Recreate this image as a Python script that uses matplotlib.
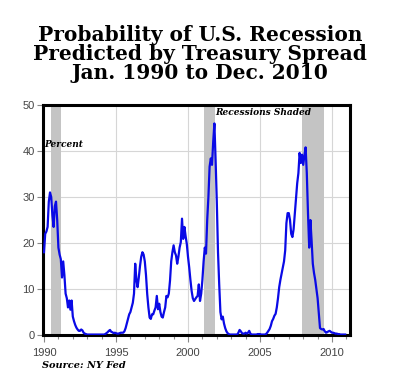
import numpy as np
import matplotlib
matplotlib.use("Agg")
from matplotlib import pyplot as plt

# monthly probability (%), Jan 1990 .. Dec 2010
years = list(range(1990, 2011))
prob = [
    [18, 22, 22.5, 23.5, 29, 31, 30, 26, 23.5, 28, 29, 25],          # 1990
    [19, 17.5, 16.5, 12.5, 16, 13, 9, 8, 6, 7.5, 5.5, 7.5],          # 1991
    [4, 3, 2.2, 1.6, 1.2, 0.9, 0.9, 1.2, 1.0, 0.5, 0.3, 0.2],        # 1992
    [0.1, 0.1, 0.1, 0.1, 0.1, 0.1, 0.1, 0.1, 0.1, 0.1, 0.1, 0.1],    # 1993
    [0.1, 0.1, 0.1, 0.2, 0.4, 0.6, 0.9, 1.1, 0.7, 0.6, 0.4, 0.5],    # 1994
    [0.4, 0.3, 0.3, 0.4, 0.5, 0.5, 0.5, 0.8, 1.5, 2.5, 3.5, 4.5],    # 1995
    [5, 6, 7, 9, 15.5, 12, 10.4, 12.5, 15, 17, 18, 17.5],            # 1996
    [16, 13, 8.9, 6, 3.8, 3.5, 4.5, 4.5, 5.3, 6, 8.5, 5.6],          # 1997
    [6.8, 5, 4, 3.8, 5, 6, 8.5, 8.2, 9, 11.8, 16, 18],               # 1998
    [19.5, 18, 17.3, 15.5, 17, 19, 20.2, 25.3, 20.9, 23.5, 21.5, 19.8],  # 1999
    [17, 14.7, 12, 9.6, 8, 7.4, 7.8, 8.2, 8.5, 11, 7.4, 9],          # 2000
    [12, 16, 19, 17.7, 25, 30, 36.6, 38.4, 37, 42, 46, 38],          # 2001
    [29, 18, 11, 5, 3.4, 4, 2.5, 1.5, 0.8, 0.4, 0.2, 0.1],           # 2002
    [0.1, 0.1, 0.1, 0.1, 0.1, 0.1, 0.5, 1.1, 0.8, 0.4, 0.3, 0.3],    # 2003
    [0.5, 0.3, 0.5, 0.9, 0.3, 0.1, 0.1, 0.1, 0.1, 0.1, 0.2, 0.2],    # 2004
    [0.2, 0.1, 0.1, 0.1, 0.1, 0.2, 0.5, 0.9, 1.3, 2.0, 3.0, 3.5],    # 2005
    [4.2, 4.6, 6, 8, 10.4, 12, 13.3, 14.5, 16, 18.4, 24.3, 26.5],    # 2006
    [26.5, 25, 22, 21.3, 23, 26.4, 30, 33, 35.2, 39.6, 37.4, 39.2],  # 2007
    [37, 39, 40.8, 35.2, 26.4, 19, 25, 20.5, 15.5, 13.5, 12, 10],    # 2008
    [8, 4.6, 1.5, 1.3, 1.2, 1.3, 0.8, 0.5, 0.6, 0.8, 0.9, 0.7],      # 2009
    [0.5, 0.5, 0.4, 0.3, 0.3, 0.2, 0.2, 0.1, 0.1, 0.1, 0.1, 0.1],    # 2010
]
recessions = [(1990.5, 1991.17), (2001.12, 2001.87), (2007.9, 2009.42)]

values = np.concatenate(prob)
dates = np.arange(len(values)) / 12.0 + years[0]

serif = "DejaVu Serif"
fig = plt.figure(figsize=(4.0, 3.92), dpi=100)
fig.text(0.5, 0.935, "Probability of U.S. Recession\nPredicted by Treasury Spread\nJan. 1990 to Dec. 2010",
         ha="center", va="top", fontsize=14.5, fontweight="bold", family=serif,
         linespacing=0.92)

ax = fig.add_axes([0.1075, 0.1454, 0.7675, 0.5866])
for a, b in recessions:
    ax.axvspan(a, b, color="#c4c4c4", lw=0, zorder=1)
ax.plot(dates, values, color="#0a0ae6", lw=1.6, zorder=3)

ax.set_xlim(1989.93, 2011.25)
ax.set_ylim(0, 50)
ax.set_yticks([0, 10, 20, 30, 40, 50])
ax.set_xticks([1990, 1995, 2000, 2005, 2010])
ax.set_xticks(range(1990, 2012), minor=True)
ax.grid(True, color="#d6d6d6", lw=0.8, zorder=0)
ax.set_axisbelow(True)
for s in ax.spines.values():
    s.set_linewidth(2.2)
    s.set_color("black")
ax.tick_params(axis="both", which="both", direction="out", color="#888888",
               labelcolor="#444444", labelsize=8, width=0.8)
ax.tick_params(axis="x", which="major", length=5, pad=4)
ax.tick_params(axis="x", which="minor", length=3)
ax.tick_params(axis="y", length=4, pad=2)
for lab in ax.get_xticklabels() + ax.get_yticklabels():
    lab.set_family("Liberation Sans")

ax.text(1990.0, 40.5, "Percent", fontsize=6.5, fontweight="bold", style="italic",
        family=serif, va="bottom", ha="left", zorder=4)
ax.text(2001.9, 47.4, "Recessions Shaded", fontsize=6.5, fontweight="bold",
        style="italic", family=serif, va="bottom", ha="left", zorder=4)
fig.text(0.105, 0.055, "Source: NY Fed", fontsize=7, fontweight="bold", style="italic",
         family=serif, ha="left", va="bottom")

fig.savefig("out.png", dpi=100)
